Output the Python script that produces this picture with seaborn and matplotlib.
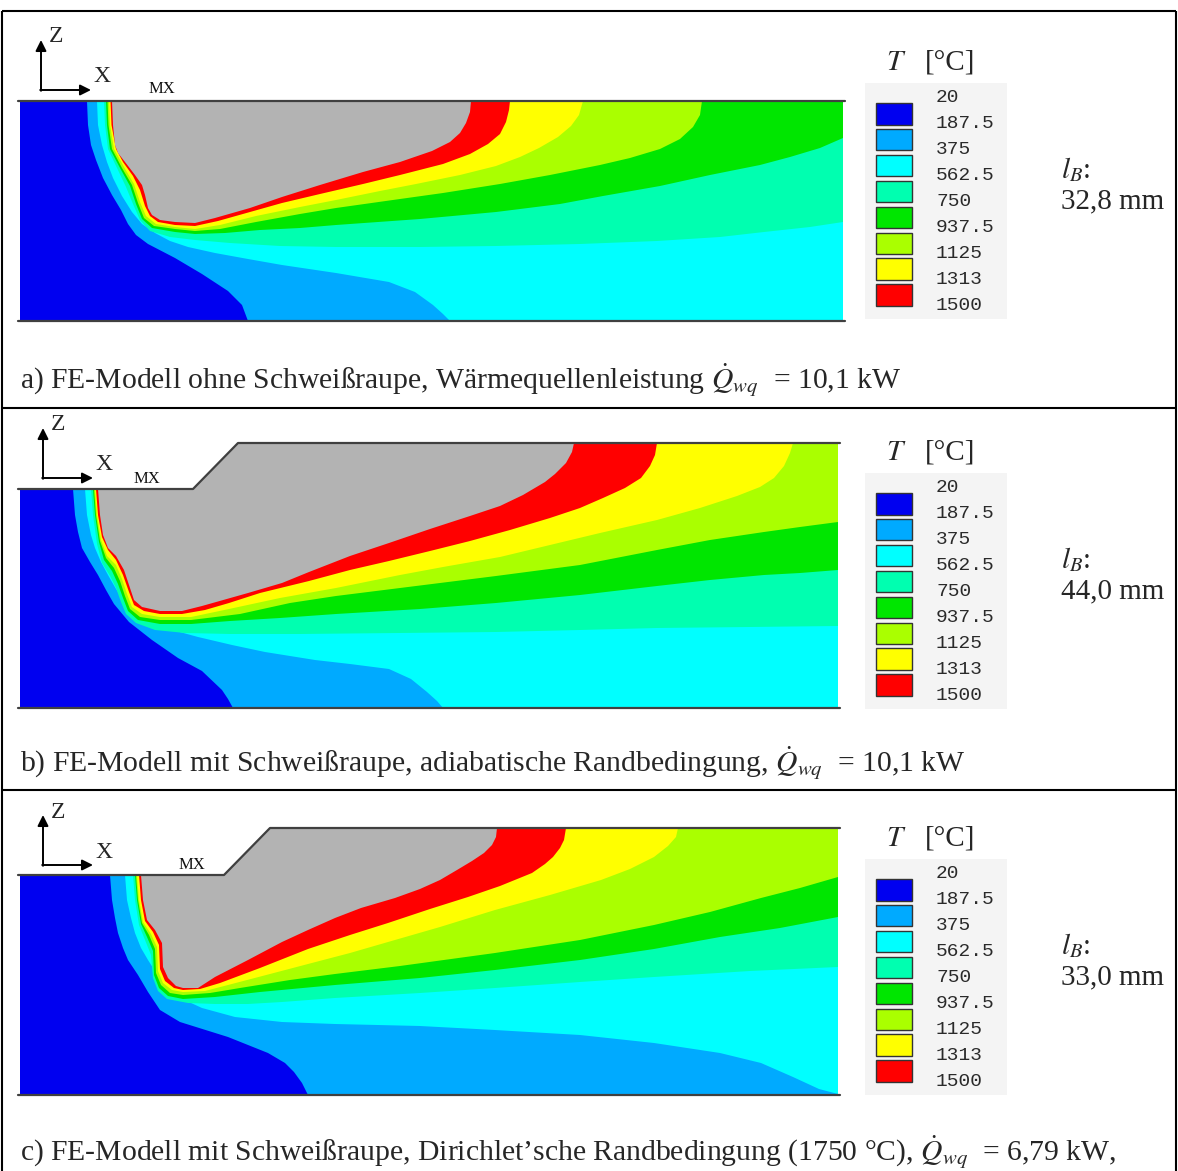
import numpy as np
import matplotlib
matplotlib.use("Agg")
import matplotlib.pyplot as plt
from matplotlib.patches import Rectangle
import seaborn as sns

# ---------------- data ----------------
LEVELS = ["20", "187.5", "375", "562.5", "750", "937.5", "1125", "1313", "1500"]
BAND_COLORS = ["#0000f0", "#00aaff", "#00ffff", "#00ffb0", "#00e600",
               "#aaff00", "#ffff00", "#ff0000"]
MELT_COLOR = "#b3b3b3"
LB_VALUES = ["32,8 mm", "44,0 mm", "33,0 mm"]
CAPTIONS = [
    "a) FE-Modell ohne Schweißraupe, Wärmequellenleistung $\\dot{Q}_{wq}$  = 10,1 kW",
    "b) FE-Modell mit Schweißraupe, adiabatische Randbedingung, $\\dot{Q}_{wq}$  = 10,1 kW",
    "c) FE-Modell mit Schweißraupe, Dirichlet\u2019sche Randbedingung (1750 °C), $\\dot{Q}_{wq}$  = 6,79 kW,",
]

# panel outlines (x, z in image pixels)
A_SURF = [(20, 101), (843, 101)]
B_SURF = [(20, 489), (193, 489), (238, 443), (838, 443)]
C_SURF = [(20, 875), (224, 875), (270, 828), (838, 828)]
A_BOTTOM, B_BOTTOM, C_BOTTOM = 321, 708, 1095
A_RIGHT, B_RIGHT, C_RIGHT = 843, 838, 838

# isotherms, panel a
A_1875 = [(87,101),(88,125),(91,145),(96,160),(103,178),(112,195),(121,210),(128,224),(136,235),(148,244),(175,258),(202,274),(228,291),(242,305),(248,321)]
A_375 = [(97,101),(98,125),(102,145),(107,162),(113,178),(122,196),(132,212),(142,224),(155,233),(170,241),(188,247),(215,253),(248,259),(282,265),(336,273),(389,282),(415,292),(433,305),(443,314),(450,321)]
A_5625 = [(104,101),(105,125),(108,149),(117,168),(126,187),(133,204),(140,220),(150,231),(170,237),(195,240),(230,243),(280,246),(336,247),(420,247),(496,246),(580,244),(657,241),(720,237),(764,232),(810,227),(843,222)]
A_750 = [(106,101),(107,125),(110,149),(120,168),(130,186),(136,204),(142,219),(152,228),(175,232),(195,234),(225,233),(260,230),(300,228),(336,225),(420,219),(496,212),(560,204),(603,196),(660,186),(710,175),(760,165),(790,157),(820,148),(843,138)]
A_9375 = [(107.5,101),(108.5,125),(112,149),(122,168),(132,185),(138,203),(144,218),(154,226),(175,229),(195,231),(220,229),(256,222),(300,214),(336,208),(400,199),(443,193),(500,184),(550,175),(600,165),(630,158),(660,149),(680,139),(693,127),(700,115),(702,101)]
A_1125 = [(109,101),(110,125),(114,149),(124,167),(134,184),(140,202),(146,216),(156,224),(175,227),(195,229),(220,225),(256,216),(300,207),(336,200),(380,191),(416,184),(460,175),(496,166),(520,157),(539,148),(558,137),(571,126),(579,115),(583,101)]
A_1313 = [(110.5,101),(111.5,125),(116,149),(123,162),(133,176),(140,190),(145,206),(150,216),(158,222),(175,225),(195,226),(218,221),(250,212),(282,203),(320,194),(363,184),(400,175),(443,164),(470,154),(488,144),(500,134),(506,122),(509,110),(510,101)]
A_1500 = [(112,101),(113,125),(115,145),(118,153),(125,162),(135,175),(142,185),(145,195),(148,208),(152,215),(160,220),(175,222),(195,223),(215,218),(250,208),(282,197),(320,185),(363,172),(400,162),(432,151),(450,142),(460,133),(466,123),(470,112),(471,101)]

# isotherms, panel b
B_1875 = [(73,489),(75,515),(78,532),(82,548),(90,562),(98,575),(106,590),(114,604),(129,622),(152,640),(178,658),(202,671),(222,690),(228,699),(233,708)]
B_375 = [(85,489),(87,515),(91,535),(95,548),(101,562),(108,575),(116,589),(125,602),(134,612),(142,618),(165,628),(198,637),(232,645),(265,652),(315,660),(350,664),(389,669),(411,679),(427,692),(437,701),(443,708)]
B_5625 = [(91,489),(93,515),(97,544),(102,563),(110,576),(116,588),(121,602),(126,614),(136,623),(155,630),(185,633),(230,634),(300,634),(400,633),(496,632),(580,630),(657,628),(750,627),(838,626)]
B_750 = [(93,489),(95,515),(99,542),(104,560),(112,571),(118,584),(123,598),(128,611),(138,620),(160,624),(191,624),(230,621),(280,618),(336,614),(420,609),(496,603),(580,595),(657,586),(710,580),(764,575),(800,573),(838,570)]
B_9375 = [(94,489),(96,515),(100,541),(106,558),(114,568),(120,581),(125,596),(130,609),(140,617),(160,620),(191,620),(240,614),(290,603),(336,596),(400,588),(496,576),(580,565),(657,550),(710,540),(764,532),(800,527),(838,522)]
B_1125 = [(95,489),(97,515),(101,540),(107,556),(116,565),(122,579),(127,594),(132,607),(142,614),(160,617),(191,617),(229,609),(280,598),(336,588),(400,575),(443,567),(500,557),(550,545),(600,533),(657,520),(700,508),(737,496),(760,487),(774,478),(784,466),(790,453),(793,443)]
B_1313 = [(96,489),(98,515),(102,537),(108,550),(116,560),(123,575),(129,592),(134,605),(144,611),(160,614),(182,614),(205,610),(229,603),(260,593),(309,581),(350,570),(389,561),(430,551),(470,541),(510,530),(550,518),(580,508),(603,498),(625,488),(641,478),(650,466),(655,455),(657,443)]
B_1500 = [(98,489),(100,515),(103,535),(108,548),(116,556),(124,570),(130,588),(134,600),(142,607),(160,611),(182,611),(202,606),(248,593),(282,583),(309,572),(350,556),(389,543),(430,529),(470,516),(500,506),(523,495),(545,482),(555,474),(566,463),(572,452),(574,443)]

# isotherms, panel c
C_1875 = [(110,875),(112,900),(115,918),(118,933),(123,948),(128,960),(138,975),(148,992),(160,1010),(180,1022),(228,1037),(268,1053),(285,1063),(294,1072),(302,1083),(308,1095)]
C_375 = [(125,875),(127,900),(131,918),(135,933),(141,948),(148,960),(155,971),(162,980),(170,989),(178,997),(202,1008),(235,1017),(282,1022),(335,1024),(420,1026),(495,1030),(580,1035),(654,1043),(720,1053),(761,1063),(793,1077),(819,1089),(838,1094)]
C_5625 = [(133,875),(135,900),(139,925),(145,940),(151,955),(153,978),(158,991),(167,999),(188,1003),(215,1004),(248,1004),(282,1002),(335,998),(420,993),(495,988),(580,982),(654,977),(750,971),(838,967)]
C_750 = [(135,875),(137,900),(141,924),(147,937),(153,951),(154,975),(159,988),(168,996),(183,999),(215,997),(260,992),(335,985),(420,978),(495,970),(580,960),(654,949),(720,937),(780,928),(838,917)]
C_9375 = [(136,875),(138,900),(142,923),(149,935),(155,949),(156,973),(161,985),(170,993),(183,995),(210,993),(240,988),(290,980),(335,974),(400,966),(495,953),(580,940),(654,925),(710,912),(761,898),(800,888),(838,877)]
C_1125 = [(137,875),(139,900),(143,922),(151,934),(157,947),(158,971),(163,983),(172,990),(183,992),(205,991),(228,985),(270,974),(308,964),(350,953),(388,942),(440,927),(495,910),(550,895),(601,880),(630,869),(654,857),(668,846),(676,837),(678,828)]
C_1313 = [(139,875),(141,900),(145,921),(153,932),(159,945),(160,969),(165,981),(174,988),(183,990),(200,989),(220,983),(260,968),(308,949),(350,935),(388,923),(430,909),(468,897),(500,886),(532,873),(545,864),(553,857),(560,848),(564,840),(566,828)]
C_1500 = [(141,875),(143,900),(147,920),(155,930),(162,943),(163,967),(168,978),(176,986),(183,988),(198,988),(215,977),(248,960),(282,942),(308,930),(335,918),(361,908),(395,898),(420,889),(440,880),(457,870),(472,861),(484,853),(492,845),(496,837),(497,828)]

PANELS = [
    dict(surf=A_SURF, bottom=A_BOTTOM, right=A_RIGHT,
         iso=[A_1875, A_375, A_5625, A_750, A_9375, A_1125, A_1313, A_1500]),
    dict(surf=B_SURF, bottom=B_BOTTOM, right=B_RIGHT,
         iso=[B_1875, B_375, B_5625, B_750, B_9375, B_1125, B_1313, B_1500]),
    dict(surf=C_SURF, bottom=C_BOTTOM, right=C_RIGHT,
         iso=[C_1875, C_375, C_5625, C_750, C_9375, C_1125, C_1313, C_1500]),
]
# layout anchors (legend offsets and small labels)
ROW_OFFSETS = [0, 390, 776]
TRIAD = [(41, 90), (43, 478), (43, 865)]
MX_POS = [(162, 89), (147, 479), (192, 865)]
CAPTION_Y = [380, 763, 1152]


def region(curve, surf, bottom, right):
    pts = [tuple(p) for p in curve]
    x0 = pts[0][0]
    xe, ye = pts[-1]
    ytop_r = surf[-1][1]
    if abs(ye - bottom) < 0.5 and xe < right - 0.5:
        pts += [(right, bottom), (right, ytop_r)]
    elif abs(xe - right) < 0.5:
        pts += [(right, ytop_r)]
    xend = pts[-1][0]
    for sx, sy in reversed(surf):
        if x0 < sx < xend:
            pts.append((sx, sy))
    return np.array(pts, dtype=float)


# ---------------- figure ----------------
sns.set_theme(style="white")
plt.rcParams['font.family'] = ['Liberation Serif', 'DejaVu Serif']
plt.rcParams['mathtext.fontset'] = 'stix'

fig = plt.figure(figsize=(11.78, 11.71), dpi=100)
ax = fig.add_axes([0, 0, 1, 1])
ax.set_facecolor("white")

for p_i, P in enumerate(PANELS):
    surf, bottom, right = P["surf"], P["bottom"], P["right"]
    dom = np.array(surf + [(right, bottom), (surf[0][0], bottom)], dtype=float)
    ax.fill(dom[:, 0], dom[:, 1], color=BAND_COLORS[0], lw=0)
    fills = BAND_COLORS[1:] + [MELT_COLOR]
    for curve, col in zip(P["iso"], fills):
        poly = region(curve, surf, bottom, right)
        ax.fill(poly[:, 0], poly[:, 1], color=col, lw=0)
    # outlines
    sx = [s[0] for s in surf]
    sx[0] -= 2
    sx[-1] += 2
    sy = [s[1] for s in surf]
    sns.lineplot(x=sx, y=sy, sort=False, estimator=None, ax=ax,
                 color="#404040", linewidth=1.6)
    sns.lineplot(x=[sx[0], sx[-1]], y=[bottom, bottom], sort=False,
                 estimator=None, ax=ax, color="#404040", linewidth=1.6)

    # coordinate triad
    tx, ty = TRIAD[p_i]
    ax.annotate("", xy=(tx, ty - 50), xytext=(tx, ty + 0.8),
                arrowprops=dict(arrowstyle="-|>", color="black", lw=1.4,
                                mutation_scale=16, shrinkA=0, shrinkB=0))
    ax.annotate("", xy=(tx + 50, ty), xytext=(tx - 0.8, ty),
                arrowprops=dict(arrowstyle="-|>", color="black", lw=1.4,
                                mutation_scale=16, shrinkA=0, shrinkB=0))
    ax.text(tx + 8, ty - 53, "Z", fontsize=17, ha="left", va="center")
    ax.text(tx + 52, ty - 13, "X", fontsize=17, ha="left", va="center")
    mx, my = MX_POS[p_i]
    ax.text(mx, my, "MX", fontsize=12, ha="center", va="center",
            family=["Liberation Serif"], color="#111111")

    # legend
    off = ROW_OFFSETS[p_i]
    ax.add_patch(Rectangle((865, 83 + off), 142, 236, facecolor="#f4f4f4",
                           edgecolor="none"))
    for k, lab in enumerate(LEVELS):
        ax.text(936, 98 + off + 25.9 * k, lab, fontsize=14, ha="left",
                va="center", family=["Liberation Mono", "DejaVu Sans Mono"],
                color="#2a2a2a")
    for k, col in enumerate(BAND_COLORS):
        ax.add_patch(Rectangle((876, 103 + off + 25.9 * k), 36, 21.5,
                               facecolor=col, edgecolor="#333333", lw=1.0))
    ax.text(896, 63 + off, "$T$", fontsize=21, ha="center", va="center")
    ax.text(950, 63 + off, "[°C]", fontsize=21, ha="center", va="center")
    ax.text(1061, 170 + off, "$l_B$:", fontsize=21, ha="left", va="center")
    ax.text(1061, 201 + off, LB_VALUES[p_i], fontsize=21, ha="left",
            va="center")

    # caption
    ax.text(20, CAPTION_Y[p_i], CAPTIONS[p_i], fontsize=21.3, ha="left",
            va="center")

# table frame
frame_kw = dict(color="black", lw=1.5, solid_capstyle="butt")
ax.plot([2, 1176], [11, 11], **frame_kw)
ax.plot([2, 2], [11, 1171], **frame_kw)
ax.plot([1176, 1176], [11, 1171], **frame_kw)
ax.plot([2, 1176], [408, 408], **frame_kw)
ax.plot([2, 1176], [790, 790], **frame_kw)

ax.set_xlim(0, 1178)
ax.set_ylim(1171, 0)
ax.axis("off")
fig.savefig("out.png", dpi=100)
